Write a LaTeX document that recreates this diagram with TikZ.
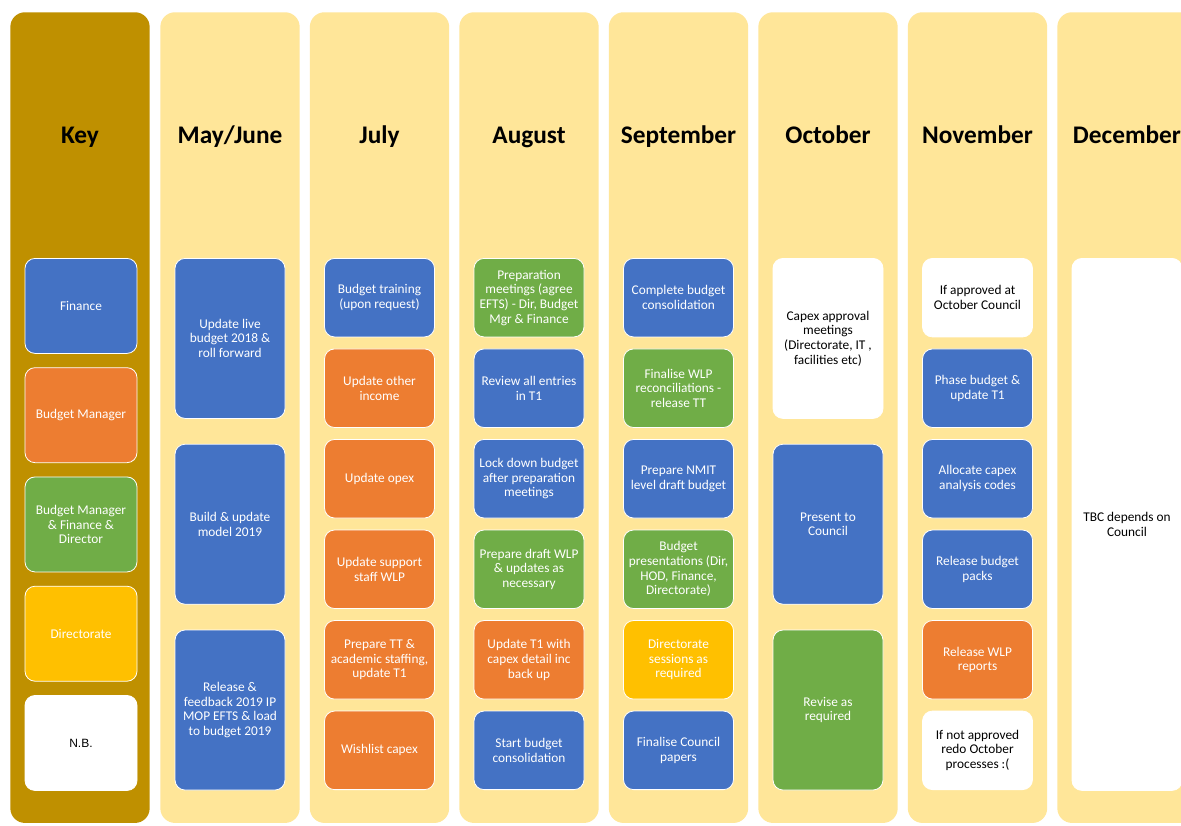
\documentclass[tikz,border=0pt]{standalone}
\usepackage{fontspec}
\setmainfont{Carlito}
\newfontfamily\nbfont{Liberation Sans}
\usepackage{tikz}
\usetikzlibrary{positioning}
\definecolor{keygold}{HTML}{BF9000}
\definecolor{monthbg}{HTML}{FFE699}
\definecolor{finblue}{HTML}{4472C4}
\definecolor{mgrorange}{HTML}{ED7D31}
\definecolor{allgreen}{HTML}{70AD47}
\definecolor{dirgold}{HTML}{FFC000}
\begin{document}
\begin{tikzpicture}[x=0.75pt,y=-0.75pt,
   month/.style={fill=monthbg,rounded corners=11pt,minimum width=104.5pt,minimum height=608pt,anchor=north,inner sep=0pt},
   keycol/.style={month,fill=keygold},
   head/.style={anchor=base,font=\fontsize{19}{23}\selectfont\bfseries},
   task/.style={draw=white,line width=0.6pt,rounded corners=7.5pt,text=white,align=center,inner sep=2pt,
      font=\fontsize{10}{11}\selectfont,minimum width=82.5pt},
   keybox/.style={task,minimum width=84pt,minimum height=71.25pt},
   big/.style={task,minimum height=120pt},
   small/.style={task,minimum height=58.9pt},
   fin/.style={fill=finblue},
   mgr/.style={fill=mgrorange},
   all/.style={fill=allgreen},
   dir/.style={fill=dirgold},
   nb/.style={fill=white,text=black}]
   \fill[white] (0,0) rectangle (1181,825);
   \useasboundingbox (0,0) rectangle (1181,825);
   \clip (0,0) rectangle (1181,825);
   % columns
   \node[keycol] (c_key) at (80,12) {};
   \node[month] (c_may) at (230,12) {};
   \node[month] (c_jul) at (379.5,12) {};
   \node[month] (c_aug) at (529,12) {};
   \node[month] (c_sep) at (678.5,12) {};
   \node[month] (c_oct) at (828,12) {};
   \node[month] (c_nov) at (977.5,12) {};
   \node[month] (c_dec) at (1127,12) {};
   \node[head] (h_key) at (80,143) {Key};
   \node[head] (h_may) at (230,143) {May/June};
   \node[head] (h_jul) at (379.5,143) {July};
   \node[head] (h_aug) at (529,143) {August};
   \node[head] (h_sep) at (678.5,143) {September};
   \node[head] (h_oct) at (828,143) {October};
   \node[head] (h_nov) at (977.5,143) {November};
   \node[head] (h_dec) at (1127,143) {December};
   % key
   \node[keybox,fin,anchor=north] (k_1) at (81,258) {Finance};
   \node[keybox,mgr,below=10.1pt of k_1] (k_2) {Budget Manager};
   \node[keybox,all,below=10.1pt of k_2] (k_3) {Budget Manager\\\& Finance \&\\Director};
   \node[keybox,dir,below=10.1pt of k_3] (k_4) {Directorate};
   \node[keybox,nb,below=10.1pt of k_4] (k_5) {\nbfont\fontsize{9}{11}\selectfont N.B.};
   % may/june
   \node[big,fin,anchor=north] (m_1) at (230,258) {Update live\\budget 2018 \&\\roll forward};
   \node[big,fin,below=18.75pt of m_1] (m_2) {Build \& update\\model 2019};
   \node[big,fin,below=18.75pt of m_2] (m_3) {Release \&\\feedback 2019 IP\\MOP EFTS \& load\\to budget 2019};
   % july
   \node[small,fin,anchor=north] (j_1) at (379.5,258) {Budget training\\(upon request)};
   \node[small,mgr,below=8.4pt of j_1] (j_2) {Update other\\income};
   \node[small,mgr,below=8.4pt of j_2] (j_3) {Update opex};
   \node[small,mgr,below=8.4pt of j_3] (j_4) {Update support\\staff WLP};
   \node[small,mgr,below=8.4pt of j_4] (j_5) {Prepare TT \&\\academic staffing,\\update T1};
   \node[small,mgr,below=8.4pt of j_5] (j_6) {Wishlist capex};
   % august
   \node[small,all,anchor=north] (a_1) at (529,258) {Preparation\\meetings (agree\\EFTS) - Dir, Budget\\Mgr \& Finance};
   \node[small,fin,below=8.4pt of a_1] (a_2) {Review all entries\\in T1};
   \node[small,fin,below=8.4pt of a_2] (a_3) {Lock down budget\\after preparation\\meetings};
   \node[small,all,below=8.4pt of a_3] (a_4) {Prepare draft WLP\\\& updates as\\necessary};
   \node[small,mgr,below=8.4pt of a_4] (a_5) {Update T1 with\\capex detail inc\\back up};
   \node[small,fin,below=8.4pt of a_5] (a_6) {Start budget\\consolidation};
   % september
   \node[small,fin,anchor=north] (s_1) at (678.5,258) {Complete budget\\consolidation};
   \node[small,all,below=8.4pt of s_1] (s_2) {Finalise WLP\\reconciliations -\\release TT};
   \node[small,fin,below=8.4pt of s_2] (s_3) {Prepare NMIT\\level draft budget};
   \node[small,all,below=8.4pt of s_3] (s_4) {Budget\\presentations (Dir,\\HOD, Finance,\\Directorate)};
   \node[small,dir,below=8.4pt of s_4] (s_5) {Directorate\\sessions as\\required};
   \node[small,fin,below=8.4pt of s_5] (s_6) {Finalise Council\\papers};
   % october
   \node[big,nb,anchor=north] (o_1) at (828,258) {Capex approval\\meetings\\(Directorate, IT ,\\facilities etc)};
   \node[big,fin,below=18.75pt of o_1] (o_2) {Present to\\Council};
   \node[big,all,below=18.75pt of o_2] (o_3) {Revise as\\required};
   % november
   \node[small,nb,anchor=north] (n_1) at (977.5,258) {If approved at\\October Council};
   \node[small,fin,below=8.4pt of n_1] (n_2) {Phase budget \&\\update T1};
   \node[small,fin,below=8.4pt of n_2] (n_3) {Allocate capex\\analysis codes};
   \node[small,fin,below=8.4pt of n_3] (n_4) {Release budget\\packs};
   \node[small,mgr,below=8.4pt of n_4] (n_5) {Release WLP\\reports};
   \node[small,nb,below=8.4pt of n_5] (n_6) {If not approved\\redo October\\processes :(};
   % december
   \node[task,nb,anchor=north,minimum height=399pt] (d_1) at (1127,258) {TBC depends on\\Council};
\end{tikzpicture}
\end{document}
